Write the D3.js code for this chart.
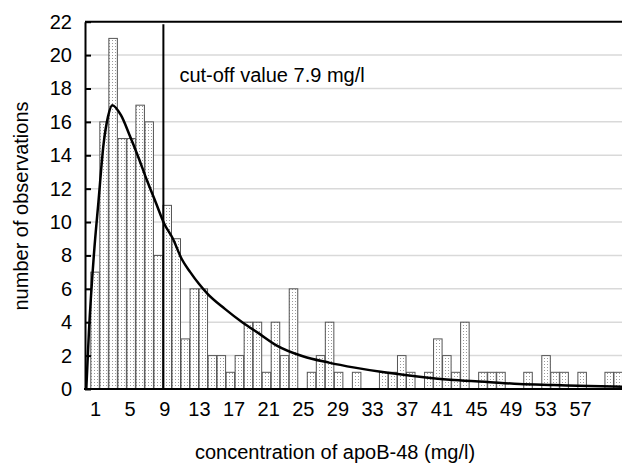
<!DOCTYPE html>
<html>
<head>
<meta charset="utf-8">
<script src="https://cdn.jsdelivr.net/npm/d3@7"></script>
<style>
  body { margin: 0; background: #fff; }
  svg text { font-family: "Liberation Sans", Arial, sans-serif; fill: #000; }
</style>
</head>
<body>
<svg id="chart" width="622" height="468"></svg>
<script>
// histogram bins (1 mg/l wide) and counts
const categories = d3.range(1, 60);
const counts = [7, 16, 21, 15, 15, 17, 16, 8, 11, 9,
                3, 6, 6, 2, 2, 1, 2, 4, 4, 1,
                4, 2, 6, 0, 1, 2, 4, 1, 0, 1,
                0, 0, 1, 1, 2, 1, 0, 1, 3, 2,
                1, 4, 0, 1, 1, 1, 0, 0, 1, 0,
                2, 1, 1, 0, 1, 0, 0, 1, 1];
const xTickLabels = [1, 5, 9, 13, 17, 21, 25, 29, 33, 37, 41, 45, 49, 53, 57];
const yTicks = [0, 2, 4, 6, 8, 10, 12, 14, 16, 18, 20, 22];

// fitted distribution (mg/l, count)
const fitX = [0, 0.3, 0.9, 1.4, 2, 2.5, 3, 4, 5, 6, 7, 8, 9, 10, 11, 12, 13, 14, 16, 18,
              20, 22, 25, 28, 31, 34, 38, 42, 46, 50, 54, 58, 62];
const fitY = [0, 3.4, 8.2, 11.2, 14.7, 16.3, 17.0, 16.4, 15.2, 13.9, 12.5, 11.2, 9.9, 9.0, 7.8, 7.0, 6.3, 5.7, 4.8, 4.0,
              3.3, 2.6, 1.96, 1.58, 1.28, 1.03, 0.77, 0.56, 0.44, 0.30, 0.24, 0.18, 0.14];

const cutoff = 7.9;      // value in the label
const cutoffAt = 8.9;    // where the line sits on the drawn axis

const svg = d3.select('#chart');
const plotLeft = 85, plotTop = 21.7, plotBottom = 389;
const bw = 9.02;
const barLeft = 90.3;
const fs = 20;

// bars sit on their own band scale
const x = d3.scaleBand()
    .domain(categories)
    .range([barLeft, barLeft + bw * categories.length])
    .padding(0);
// value axis used by the labels, curve and cut-off
const xv = d3.scaleLinear()
    .domain([0, 57])
    .range([86.3, 580]);
const y = d3.scaleLinear()
    .domain([0, 22])
    .range([plotBottom, plotTop]);

// dotted fill like the spreadsheet pattern
const defs = svg.append('defs');
const pat = defs.append('pattern')
    .attr('id', 'dots')
    .attr('patternUnits', 'userSpaceOnUse')
    .attr('width', 3).attr('height', 3);
pat.append('rect').attr('width', 3).attr('height', 3).attr('fill', '#fff');
pat.append('rect').attr('x', 1).attr('y', 1).attr('width', 1).attr('height', 1).attr('fill', '#9a9a9a');

// gridlines
svg.append('g')
    .selectAll('line')
    .data(yTicks.filter(d => d > 0 && d < 22))
    .enter().append('line')
    .attr('x1', plotLeft).attr('x2', 622)
    .attr('y1', d => y(d)).attr('y2', d => y(d))
    .attr('stroke', '#d9d9d9')
    .attr('stroke-width', 1.5);

// bars
svg.append('g')
    .selectAll('rect')
    .data(categories.map((c, i) => ({ c, n: counts[i] })).filter(d => d.n > 0))
    .enter().append('rect')
    .attr('x', d => x(d.c) + 0.5)
    .attr('y', d => y(d.n))
    .attr('width', x.bandwidth() - 0.5)
    .attr('height', d => plotBottom - y(d.n))
    .attr('fill', 'url(#dots)')
    .attr('stroke', '#555')
    .attr('stroke-width', 1);

// fitted curve
const line = d3.line()
    .x((d, i) => xv(fitX[i]))
    .y(d => y(d))
    .curve(d3.curveMonotoneX);
svg.append('path')
    .attr('d', line(fitY))
    .attr('fill', 'none')
    .attr('stroke', '#000')
    .attr('stroke-width', 2.5);

// cut-off line
svg.append('line')
    .attr('x1', xv(cutoffAt)).attr('x2', xv(cutoffAt))
    .attr('y1', plotBottom).attr('y2', plotTop + 2.5)
    .attr('stroke', '#000')
    .attr('stroke-width', 2);
svg.append('text')
    .attr('x', xv(cutoffAt) + 16)
    .attr('y', 82)
    .attr('font-size', fs)
    .text(`cut-off value ${cutoff} mg/l`);

// frame
svg.append('line')
    .attr('x1', plotLeft).attr('x2', 622)
    .attr('y1', plotTop).attr('y2', plotTop)
    .attr('stroke', '#000').attr('stroke-width', 2);

// y axis, ticks pointing inwards
const yAxis = svg.append('g')
    .attr('transform', `translate(${plotLeft},0)`)
    .call(d3.axisLeft(y).tickValues(yTicks).tickSizeInner(-6).tickSizeOuter(0).tickPadding(13));
yAxis.select('.domain').attr('stroke', '#000').attr('stroke-width', 2);
yAxis.selectAll('.tick line').attr('stroke', '#000').attr('stroke-width', 2);
yAxis.selectAll('.tick text').attr('font-size', fs).attr('font-family', '"Liberation Sans", Arial, sans-serif');

// x axis labels
const xAxis = svg.append('g')
    .attr('transform', `translate(0,${plotBottom})`)
    .call(d3.axisBottom(xv).tickValues(xTickLabels).tickSize(0).tickPadding(13));
xAxis.select('.domain').remove();
xAxis.selectAll('.tick text').attr('font-size', fs).attr('font-family', '"Liberation Sans", Arial, sans-serif');
svg.append('line')
    .attr('x1', plotLeft - 1).attr('x2', 622)
    .attr('y1', plotBottom).attr('y2', plotBottom)
    .attr('stroke', '#000').attr('stroke-width', 2);

// axis titles
svg.append('text')
    .attr('x', 335).attr('y', 459)
    .attr('text-anchor', 'middle')
    .attr('font-size', fs)
    .text('concentration of apoB-48 (mg/l)');
svg.append('text')
    .attr('transform', 'translate(28,206) rotate(-90)')
    .attr('text-anchor', 'middle')
    .attr('font-size', fs)
    .text('number of observations');
</script>
</body>
</html>
